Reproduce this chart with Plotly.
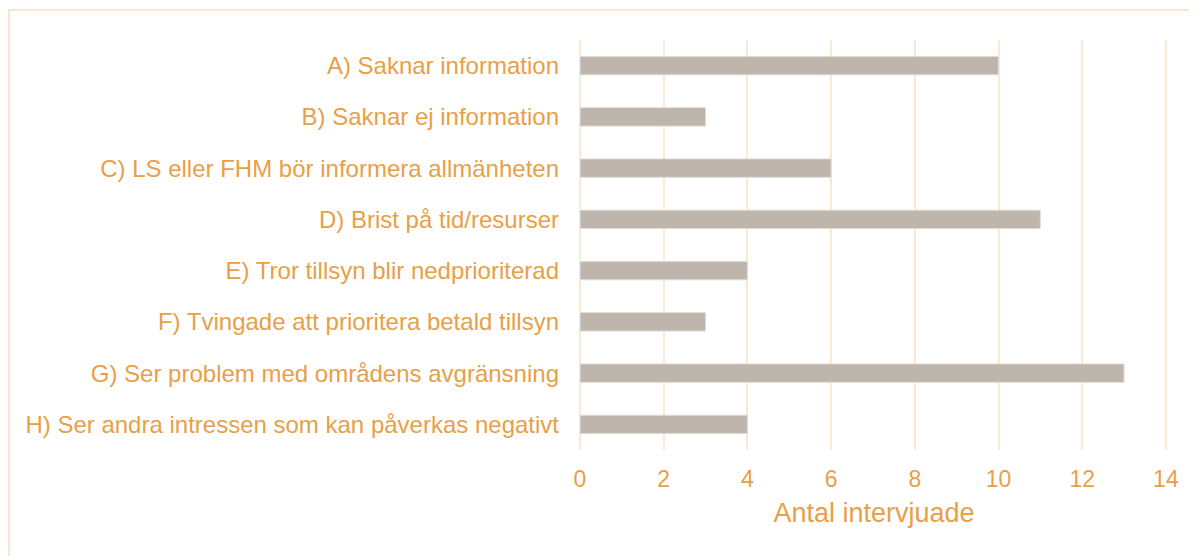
import plotly.graph_objects as go

categories = [
    "A) Saknar information",
    "B) Saknar ej information",
    "C) LS eller FHM bör informera allmänheten",
    "D) Brist på tid/resurser",
    "E) Tror tillsyn blir nedprioriterad",
    "F) Tvingade att prioritera betald tillsyn",
    "G) Ser problem med områdens avgränsning",
    "H) Ser andra intressen som kan påverkas negativt",
]
values = [10, 3, 6, 11, 4, 3, 13, 4]
x_ticks = [0, 2, 4, 6, 8, 10, 12, 14]
x_title = "Antal intervjuade"

orange = "#E8A048"
grid = "#FBE9D2"

L, R, T, B = 572, 37, 32, 114
W, H = 1197, 556
pw, ph = W - L - R, H - T - B

fig = go.Figure(go.Bar(
    x=values, y=categories, orientation="h",
    marker=dict(color="#BEB6AC", line=dict(color="#E2DDD6", width=1)),
    width=0.36,
))

fig.update_layout(
    width=W, height=H,
    margin=dict(l=L, r=R, t=T, b=B),
    paper_bgcolor="white", plot_bgcolor="white",
    font=dict(family="Liberation Sans, Arial, sans-serif", color=orange, size=20),
    showlegend=False,
    xaxis=dict(
        range=[0, 14.05], tickvals=x_ticks, showgrid=True, gridcolor=grid, gridwidth=2,
        zeroline=True, zerolinecolor=grid, zerolinewidth=2, showline=False,
        tickfont=dict(size=23, color=orange), ticklabelstandoff=13,
        title=dict(text=x_title, font=dict(size=27, color=orange), standoff=12),
    ),
    yaxis=dict(
        categoryorder="array", categoryarray=categories[::-1],
        showgrid=False, zeroline=False, showline=False,
        tickfont=dict(size=24, color=orange), ticklabelstandoff=20,
    ),
    shapes=[dict(type="rect", xref="paper", yref="paper",
                 x0=(1 - L) / pw, x1=1.2, y0=-0.5, y1=1 + (T - 2) / ph,
                 line=dict(color="#FBE6CC", width=2), fillcolor="rgba(0,0,0,0)", layer="below")],
)

fig.write_html("out.html")
